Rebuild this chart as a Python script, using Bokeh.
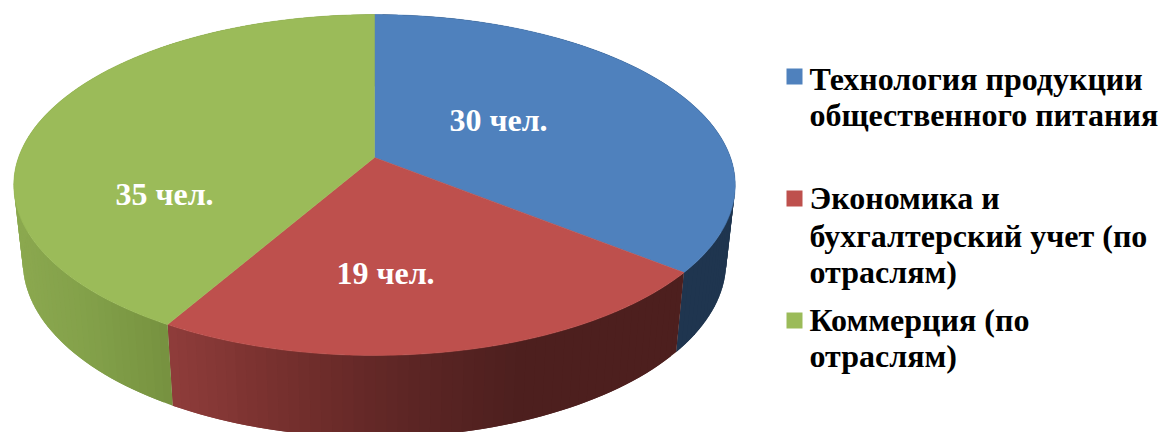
import math
from bokeh.plotting import figure
from bokeh.models import Range1d
from bokeh.core.properties import value
from bokeh.embed import file_html
from bokeh.resources import INLINE

# ---- data ----
categories = ["Технология продукции общественного питания",
              "Экономика и бухгалтерский учет (по отраслям)",
              "Коммерция (по отраслям)"]
people = [30, 19, 35]
value_labels = ["30 чел.", "19 чел.", "35 чел."]

# ---- style / layout ----
W, H = 1161, 432
top_colors = ["#4F81BD", "#BE504D", "#9BBB59"]
# side shading stops: (screen x, colour)
side_stops = [
    [(680, "#1F354F"), (735, "#1F354F")],
    [(168, "#8F3C3A"), (300, "#722E2C"), (400, "#5E2625"), (520, "#4D1F1E"), (690, "#4D1F1E")],
    [(15, "#8BA84F"), (90, "#82A049"), (175, "#75903F")],
]
label_pos = [(498, 119), (385, 272), (164, 193)]
legend_swatches = [(786, 68), (786, 190), (786, 312)]
SWATCH = 16
legend_lines = [
    ("Технология продукции", 78), ("общественного питания", 114),
    ("Экономика и", 197), ("бухгалтерский учет (по", 235), ("отраслям)", 271),
    ("Коммерция (по", 319), ("отраслям)", 355),
]
LEGEND_X = 809
FONT = value("Liberation Serif")

# perspective pie: apex, and projected circle
CX, CY = 374, 157
A, B, C = 356.0, 166.0, 0.1614
KX, MY, DEPTH = 0.975, 1.03, 76.0


def top_pt(deg):
    t = math.radians(deg)
    u, v = math.sin(t), math.cos(t)
    w = 1 + C * v
    return CX + A * u / w, CY - B * v / w


def bottom_pt(deg):
    x, y = top_pt(deg)
    return CX + (x - CX) * KX, CY + DEPTH + (y - CY) * MY


def hex2rgb(h):
    return tuple(int(h[i:i + 2], 16) for i in (1, 3, 5))


def shade(stops, x):
    if x <= stops[0][0]:
        return stops[0][1]
    for (x0, c0), (x1, c1) in zip(stops, stops[1:]):
        if x <= x1:
            f = (x - x0) / (x1 - x0)
            a, b = hex2rgb(c0), hex2rgb(c1)
            return "#%02X%02X%02X" % tuple(round(p + (q - p) * f) for p, q in zip(a, b))
    return stops[-1][1]


p = figure(width=W, height=H, output_backend="svg", toolbar_location=None,
           x_range=Range1d(0, W), y_range=Range1d(H, 0),
           min_border=0, outline_line_color=None)
p.axis.visible = False
p.grid.visible = False

total = sum(people)
edges = [0.0]
for v in people:
    edges.append(edges[-1] + v / total * 360)

# sides: each strip is overlapped by the next so that no seams show
for i in range(len(people)):
    a0, a1 = edges[i], edges[i + 1]
    n = max(2, int((a1 - a0) / 1.5))
    sx, sy, sc = [], [], []
    for k in range(n):
        t0 = a0 + (a1 - a0) * k / n
        t1 = a0 + (a1 - a0) * (k + 1) / n
        t1x = min(a1, t1 + (a1 - a0) / n)
        mid = a0 + (a1 - a0) * (k + 0.5) / n
        p0, p1 = top_pt(t0), top_pt(t1x)
        q0, q1 = bottom_pt(t0), bottom_pt(t1x)
        sx.append([p0[0], p1[0], q1[0], q0[0]])
        sy.append([p0[1], p1[1], q1[1], q0[1]])
        sc.append(shade(side_stops[i], top_pt(mid)[0]))
    p.patches(sx, sy, fill_color=sc, line_color=None)

# top faces
for i in range(len(people)):
    a0, a1 = edges[i], edges[i + 1]
    n = int(a1 - a0) * 2
    pts = [top_pt(a0 + (a1 - a0) * k / n) for k in range(n + 1)]
    xs = [CX] + [q[0] for q in pts]
    ys = [CY] + [q[1] for q in pts]
    p.patch(xs, ys, fill_color=top_colors[i], line_color=top_colors[i], line_width=0.5)

# value labels
p.text([q[0] for q in label_pos], [q[1] for q in label_pos], text=value_labels,
       text_color="#FFFFFF", text_font=FONT, text_font_style="bold", text_font_size="32px",
       text_align="center", text_baseline="alphabetic")

# legend
p.quad(left=[s[0] for s in legend_swatches], right=[s[0] + SWATCH for s in legend_swatches],
       top=[s[1] for s in legend_swatches], bottom=[s[1] + SWATCH for s in legend_swatches],
       fill_color=top_colors, line_color=None)
p.text([LEGEND_X] * len(legend_lines), [l[1] for l in legend_lines], text=[l[0] for l in legend_lines],
       text_color="#000000", text_font=FONT, text_font_style="bold", text_font_size="32px",
       text_align="left", text_baseline="alphabetic")

open("out.html", "w").write(file_html(p, INLINE))
